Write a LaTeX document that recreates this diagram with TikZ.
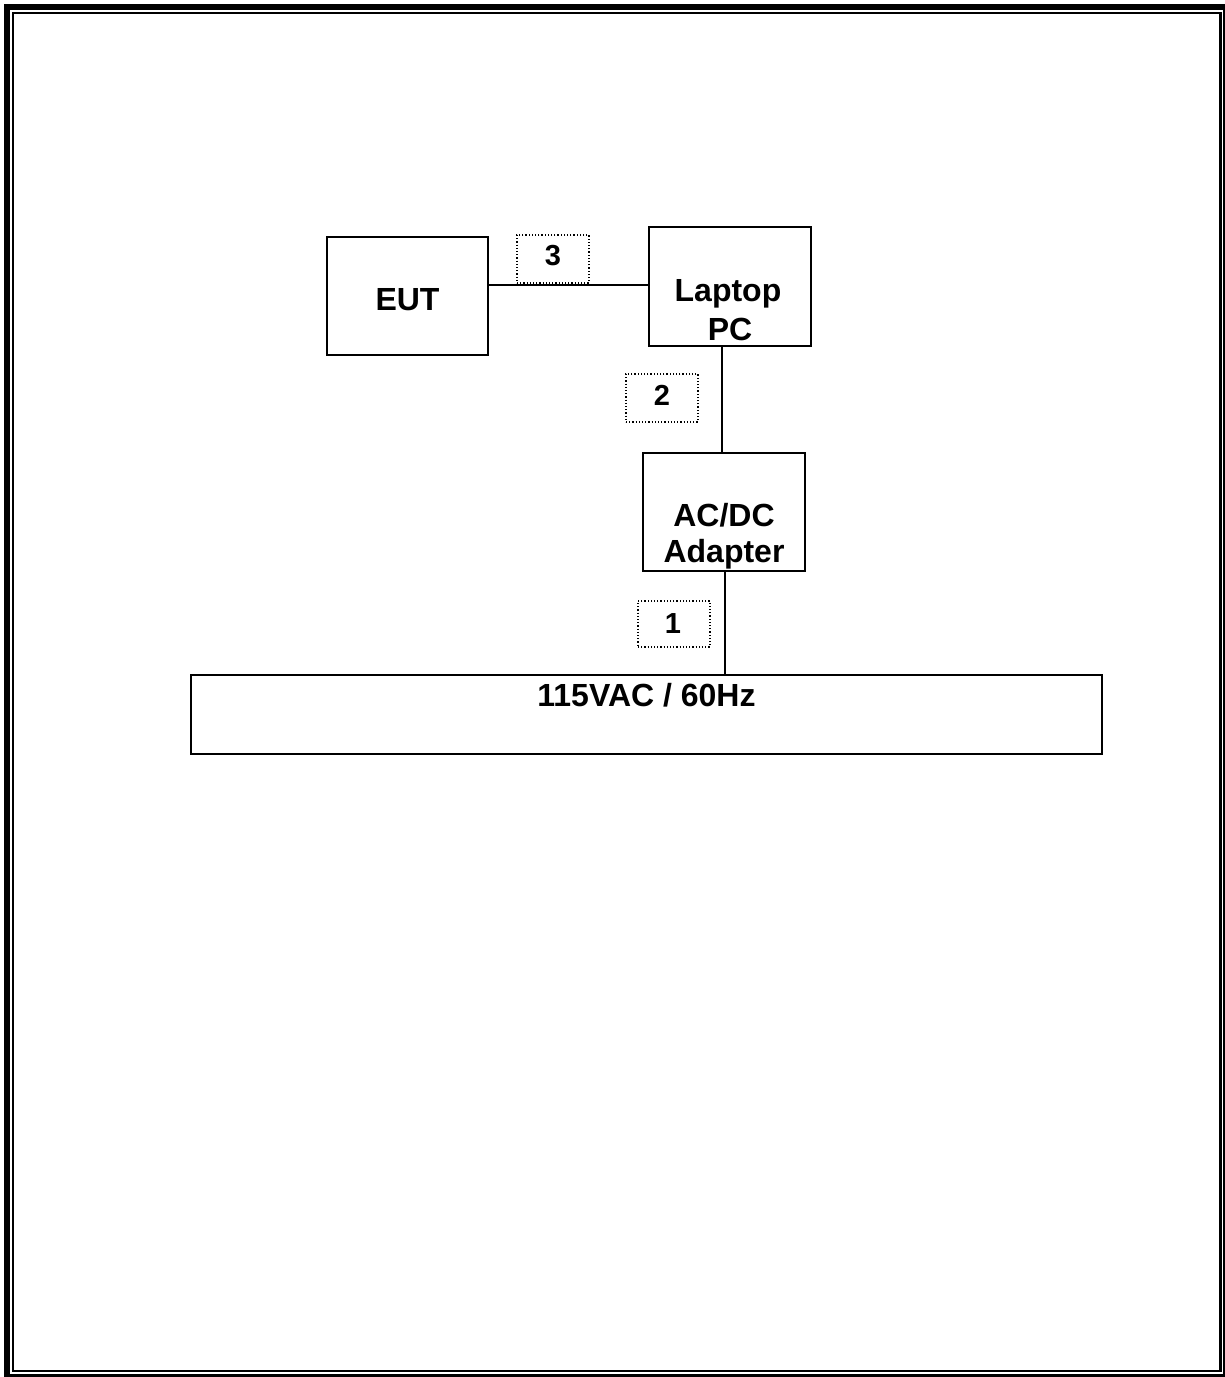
\documentclass[tikz,border=0pt]{standalone}
\usepackage{fontspec}
\setmainfont{Liberation Sans}
\begin{document}
\begin{tikzpicture}[x=1pt,y=-1pt,
  box/.style={draw,line width=2.2pt,inner sep=0pt,outer sep=0pt},
  wire/.style={line width=2.2pt},
  tag/.style={draw,dotted,line width=1.2pt,inner sep=0pt,outer sep=0pt,minimum width=72,minimum height=48},
  lbl/.style={font=\bfseries\fontsize{32}{37}\selectfont,inner sep=0pt,anchor=base},
  num/.style={font=\bfseries\fontsize{29}{33}\selectfont,inner sep=0pt,anchor=base}]
\clip (0,0) rectangle (1225,1377);
\useasboundingbox (0,0) rectangle (1225,1377);
% page border
\draw[line width=6pt] (7,7) rectangle (1226.3,1376.7);
\draw[line width=2.3pt] (13.3,13.3) rectangle (1220.5,1370.8);
% boxes
\node[box,minimum width=161,minimum height=118] (eut) at (407.5,296) {};
\node[box,minimum width=162,minimum height=119] (laptop) at (730,286.5) {};
\node[box,minimum width=162,minimum height=118] (adapter) at (724,512) {};
\node[box,minimum width=911,minimum height=79] (mains) at (646.5,714.5) {};
% box texts
\node[lbl] (eutT) at (407.5,310) {EUT};
\node[lbl] (lapT1) at (728,301) {Laptop};
\node[lbl] (lapT2) at (730,340) {PC};
\node[lbl] (adaT1) at (724,526) {AC/DC};
\node[lbl] (adaT2) at (724,562) {Adapter};
\node[lbl] (mainsT) at (646.5,706) {115VAC / 60Hz};
% connectors
\coordinate (c3) at (488,285);
\coordinate (c2) at (722,346);
\coordinate (c1) at (725,571);
\draw[wire] (c3) -- (c3 -| laptop.west);
\draw[wire] (c2) -- (c2 |- adapter.north);
\draw[wire] (c1) -- (c1 |- mains.north);
% cable tags
\node[tag] (t3) at (553,259) {};
\node[num] (n3) at (553,265) {3};
\node[tag] (t2) at (662,398) {};
\node[num] (n2) at (662,405) {2};
\node[tag,minimum height=46] (t1) at (674,624) {};
\node[num] (n1) at (673,633) {1};
\end{tikzpicture}
\end{document}
